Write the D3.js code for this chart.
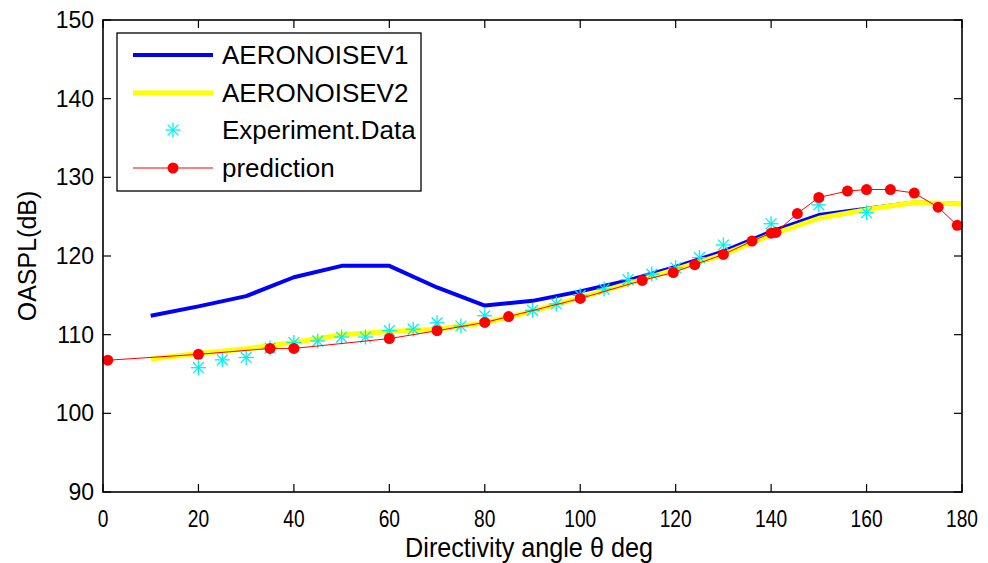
<!DOCTYPE html>
<html><head><meta charset="utf-8">
<script src="https://cdn.jsdelivr.net/npm/d3@7"></script>
<style>body{margin:0;background:#fff;} svg{display:block;} text{font-family:"Liberation Sans",Arial,sans-serif;fill:#000;}</style>
</head><body>
<svg id="c" width="988" height="563"></svg>
<script>
const xTicks = [0,20,40,60,80,100,120,140,160,180];
const yTicks = [90,100,110,120,130,140,150];

const v1X = [10,20,30,40,50,60,70,80,90,100,110,120,130,140,150,160,170,180];
const v1Y = [112.4,113.6,114.9,117.3,118.75,118.75,116.0,113.7,114.3,115.5,116.9,118.6,120.6,123.1,125.2,126.0,126.8,126.6];

const v2X = [10,20,30,40,50,60,70,80,90,100,110,120,130,140,150,160,170,180];
const v2Y = [106.9,107.6,108.2,109.0,110.0,110.4,110.7,111.5,113.0,114.7,116.5,118.3,120.2,122.7,124.8,125.9,126.8,126.6];

const expX = [20,25,30,35,40,45,50,55,60,65,70,75,80,90,95,100,105,110,115,120,125,130,140,150,160];
const expY = [105.8,106.8,107.1,108.3,109.0,109.2,109.7,109.7,110.5,110.7,111.5,111.1,112.4,113.1,113.9,115.0,115.8,117.0,117.7,118.5,119.8,121.4,124.1,126.5,125.5];

const predX = [1,20,35,40,60,70,80,85,100,113,119.5,124,130,136,140,141,145.5,150,156,160,165,170,175,179];
const predY = [106.75,107.5,108.25,108.25,109.5,110.5,111.55,112.3,114.6,116.9,117.9,118.9,120.2,121.9,122.9,123.0,125.4,127.45,128.25,128.45,128.45,128.0,126.2,123.9];

const seriesNames = ["AERONOISEV1","AERONOISEV2","Experiment.Data","prediction"];

const svg = d3.select("#c");
const L=103, R=962, T=20, B=492;
const x = d3.scaleLinear().domain([0,180]).range([L,R]);
const y = d3.scaleLinear().domain([90,150]).range([B,T]);

const g = svg.append("g");
g.append("rect").attr("x",L).attr("y",T).attr("width",R-L).attr("height",B-T).attr("fill","#fff");

const zip = (a,b)=>a.map((d,i)=>[d,b[i]]);
const line = d3.line().x(d=>x(d[0])).y(d=>y(d[1]));

g.append("path").datum(zip(v1X,v1Y)).attr("d",line).attr("fill","none").attr("stroke","#0000ff").attr("stroke-width",4).attr("stroke-linejoin","round");
g.append("path").datum(zip(v2X,v2Y)).attr("d",line).attr("fill","none").attr("stroke","#ffff00").attr("stroke-width",5).attr("stroke-linejoin","round");

function star(sel, cx, cy, r){
  const gg = sel.append("g").attr("transform",`translate(${cx},${cy})`).attr("stroke","#00f0f0").attr("stroke-width",1.3);
  gg.append("line").attr("x1",-r).attr("x2",r).attr("y1",0).attr("y2",0);
  gg.append("line").attr("x1",0).attr("x2",0).attr("y1",-r).attr("y2",r);
  const d=r*0.72;
  gg.append("line").attr("x1",-d).attr("x2",d).attr("y1",-d).attr("y2",d);
  gg.append("line").attr("x1",-d).attr("x2",d).attr("y1",d).attr("y2",-d);
}
zip(expX,expY).forEach(d=>star(g, x(d[0]), y(d[1]), 7.5));

g.append("path").datum(zip(predX,predY)).attr("d",line).attr("fill","none").attr("stroke","#ff0000").attr("stroke-width",1);
g.selectAll("circle.p").data(zip(predX,predY)).enter().append("circle").attr("class","p")
  .attr("cx",d=>x(d[0])).attr("cy",d=>y(d[1])).attr("r",5.5).attr("fill","#ff0000");

// axes
const tl = 8;
const ax = svg.append("g").attr("stroke","#000").attr("stroke-width",1.2);
xTicks.forEach(t=>{
  ax.append("line").attr("x1",x(t)).attr("x2",x(t)).attr("y1",B).attr("y2",B-tl);
  ax.append("line").attr("x1",x(t)).attr("x2",x(t)).attr("y1",T).attr("y2",T+tl);
});
yTicks.forEach(t=>{
  ax.append("line").attr("x1",L).attr("x2",L+tl).attr("y1",y(t)).attr("y2",y(t));
  ax.append("line").attr("x1",R).attr("x2",R-tl).attr("y1",y(t)).attr("y2",y(t));
});
svg.append("rect").attr("x",L).attr("y",T).attr("width",R-L).attr("height",B-T).attr("fill","none").attr("stroke","#000").attr("stroke-width",1.6);

xTicks.forEach(t=>{
  svg.append("text").attr("transform",`translate(${x(t)},527) scale(0.8,1)`).attr("text-anchor","middle").attr("font-size",24).text(t);
});
yTicks.forEach(t=>{
  svg.append("text").attr("x",94).attr("y",y(t)+8).attr("text-anchor","end").attr("font-size",23).text(t);
});
svg.append("text").attr("transform",`translate(529,557) scale(0.9,1)`).attr("text-anchor","middle").attr("font-size",28).text("Directivity angle θ deg");
svg.append("text").attr("transform",`translate(36,256) rotate(-90)`).attr("text-anchor","middle").attr("font-size",25).text("OASPL(dB)");

// legend
const lg = svg.append("g");
lg.append("rect").attr("x",117).attr("y",33).attr("width",304).attr("height",158).attr("fill","#fff").attr("stroke","#000").attr("stroke-width",1.3);
const rows=[55,93,130,168];
lg.append("line").attr("x1",133).attr("x2",213).attr("y1",rows[0]).attr("y2",rows[0]).attr("stroke","#0000ff").attr("stroke-width",4);
lg.append("line").attr("x1",133).attr("x2",213).attr("y1",rows[1]).attr("y2",rows[1]).attr("stroke","#ffff00").attr("stroke-width",5);
star(lg,173,rows[2],7.5);
lg.append("line").attr("x1",133).attr("x2",213).attr("y1",rows[3]).attr("y2",rows[3]).attr("stroke","#ff0000").attr("stroke-width",1);
lg.append("circle").attr("cx",173).attr("cy",rows[3]).attr("r",5.5).attr("fill","#ff0000");
seriesNames.forEach((n,i)=>{
  lg.append("text").attr("x",222).attr("y",rows[i]+9).attr("font-size",26).text(n);
});
</script>
</body></html>
